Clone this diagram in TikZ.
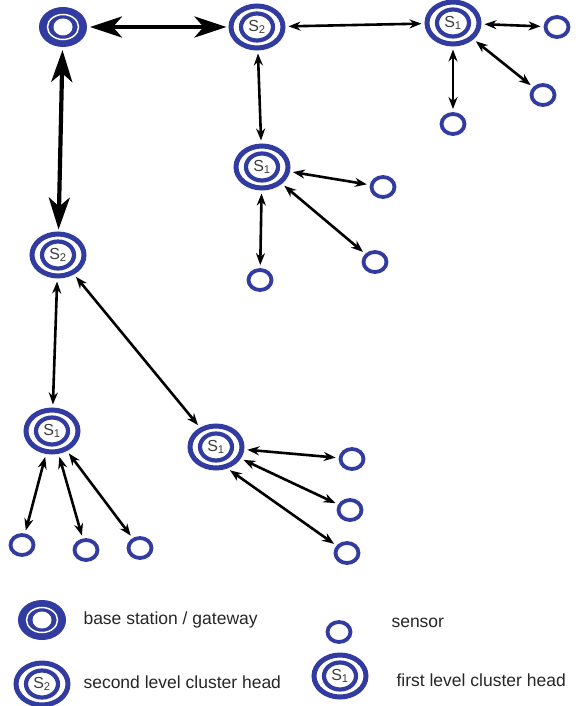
\documentclass[tikz,border=0pt]{standalone}
\usepackage{fontspec}
\setmainfont{Liberation Sans}
\usetikzlibrary{shapes.geometric,arrows.meta}

\definecolor{netblue}{RGB}{50,60,160}
\definecolor{labgray}{RGB}{60,60,60}

\begin{document}
\begin{tikzpicture}[x=1pt, y=-1pt,
  sensor/.style={ellipse, draw=netblue, line width=3.8pt, inner sep=0pt,
    minimum width=23pt, minimum height=20pt},
  chead/.style={ellipse, draw=netblue, line width=5pt, inner sep=0pt,
    minimum width=52pt, minimum height=42pt,
    font=\fontsize{16}{16}\selectfont, text=labgray,
    path picture={\draw[netblue, line width=4.2pt] (path picture bounding box.center)
      ellipse [x radius=16pt, y radius=13.5pt];}},
  base/.style={ellipse, fill=netblue, draw=netblue, line width=1pt, inner sep=0pt,
    minimum width=47pt, minimum height=39pt,
    path picture={\draw[white, line width=1.5pt] (path picture bounding box.center)
      ellipse [x radius=15.5pt, y radius=12.5pt];
      \fill[white] (path picture bounding box.center)
      ellipse [x radius=9.5pt, y radius=8.5pt];}},
  link/.style={line width=2.6pt, {Stealth[length=12pt,width=9pt]}-{Stealth[length=12pt,width=9pt]},
    shorten <=3pt, shorten >=3pt},
  trunk/.style={line width=4.2pt, {Stealth[length=32pt,width=21pt,inset=9pt]}-{Stealth[length=32pt,width=21pt,inset=9pt]},
    shorten <=3pt, shorten >=2pt},
  legtext/.style={anchor=west, font=\fontsize{17.5}{18}\selectfont, text=black!85}]

\useasboundingbox (0,0) rectangle (578,706);

% base station and upper branch
\node[base] (bs) at (63,27) {};
\node[chead] (s2a) at (257,27) {S\textsubscript{2}};
\node[chead] (s1a) at (453,23) {S\textsubscript{1}};
\node[sensor] (a1) at (557,27) {};
\node[sensor] (a2) at (543,95) {};
\node[sensor] (a3) at (453,124) {};

\node[chead] (s1b) at (262,167) {S\textsubscript{1}};
\node[sensor] (b1) at (383,187) {};
\node[sensor] (b2) at (375,262) {};
\node[sensor] (b3) at (260,280) {};

% left branch
\node[chead] (s2b) at (58,255) {S\textsubscript{2}};
\node[chead] (s1c) at (52,431) {S\textsubscript{1}};
\node[sensor] (c1) at (22,545) {};
\node[sensor] (c2) at (86,550) {};
\node[sensor] (c3) at (140,548) {};

\node[chead] (s1d) at (216,447) {S\textsubscript{1}};
\node[sensor] (d1) at (352,459) {};
\node[sensor] (d2) at (350,510) {};
\node[sensor] (d3) at (347,553) {};

% links
\draw[trunk] (bs) -- (s2a);
\draw[trunk] (bs) -- (s2b);
\draw[link] (s2a) -- (s1a);
\draw[link] (s2a) -- (s1b);
\draw[link] (s2b) -- (s1c);
\draw[link] (s2b) -- (s1d);

\foreach \s in {a1,a2,a3} \draw[link] (s1a) -- (\s);
\foreach \s in {b1,b2,b3} \draw[link] (s1b) -- (\s);
\foreach \s in {c1,c2,c3} \draw[link] (s1c) -- (\s);
\draw[link] (s1d) -- (d1);
\draw[link] (s1d) -- (d2);
\draw[link] (s1d.-62) -- (d3);

% legend
\node[base] (kbs) at (42,620) {};
\node[legtext] at (80,620) {base station / gateway};
\node[sensor] (ksn) at (339,632) {};
\node[legtext] at (388,623) {sensor};
\node[chead] (ks2) at (42,684) {S\textsubscript{2}};
\node[legtext] at (80,682) {second level cluster head};
\node[chead] (ks1) at (340,676) {S\textsubscript{1}};
\node[legtext] at (393,680) {first level cluster head};
\end{tikzpicture}
\end{document}
